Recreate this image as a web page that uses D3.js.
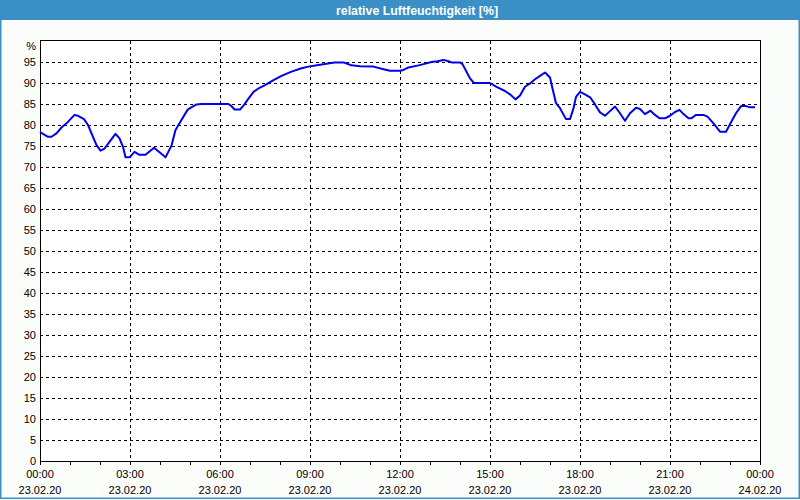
<!DOCTYPE html>
<html>
<head>
<meta charset="utf-8">
<script src="https://cdn.jsdelivr.net/npm/d3@7"></script>
<style>
html,body{margin:0;padding:0;background:#fbfdfb;}
svg{display:block;}
text{font-family:"Liberation Sans",Arial,sans-serif;}
</style>
</head>
<body>
<svg id="chart" width="800" height="500"></svg>
<script>
const title = "relative Luftfeuchtigkeit [%]";
const times = ["00:00","00:16","00:23","00:33","00:43","00:53","01:09","01:16","01:28","01:36","01:43","01:53","02:01","02:09","02:19","02:31","02:39","02:46","02:51","02:59","03:09","03:19","03:31","03:48","03:59","04:11","04:23","04:31","04:39","04:55","05:00","05:13","05:23","06:17","06:23","06:29","06:40","06:49","06:57","07:07","07:17","07:30","07:47","08:03","08:23","08:43","08:57","09:17","09:49","10:07","10:12","10:23","10:40","11:07","11:23","11:40","12:00","12:07","12:17","12:37","12:47","13:03","13:15","13:27","13:37","13:43","14:00","14:05","14:13","14:20","14:28","15:00","15:13","15:30","15:40","15:51","16:00","16:10","16:20","16:30","16:40","16:50","17:00","17:05","17:12","17:20","17:32","17:40","17:47","17:52","18:00","18:10","18:21","18:30","18:40","18:50","19:00","19:10","19:20","19:30","19:40","19:52","20:00","20:10","20:21","20:30","20:39","20:50","21:00","21:10","21:19","21:27","21:37","21:43","21:52","22:07","22:15","22:27","22:40","22:52","23:01","23:12","23:22","23:32","23:40","23:50"];
const humidity = [78.3,77.2,77.2,78,79.4,80.4,82.4,82.2,81.4,80,78,75.2,73.9,74.4,76,77.9,76.8,74.8,72.3,72.3,73.6,72.9,72.9,74.6,73.5,72.3,75.1,78.8,80.4,83.6,84,84.9,85,85,84.5,83.7,83.7,84.9,86.3,87.9,88.7,89.5,90.7,91.7,92.7,93.5,93.9,94.3,94.9,94.9,94.7,94.2,94,93.9,93.4,92.9,92.9,93.1,93.7,94.2,94.5,95,95.2,95.5,95.2,94.9,94.9,94.5,92.7,91.1,90,90,89.1,88.1,87.3,86.1,87,89.1,89.9,90.9,91.7,92.5,91.3,88.7,85.2,84,81.4,81.4,84,86.7,87.9,87.3,86.5,84.9,83,82.2,83.3,84.4,82.8,81,82.8,84.1,83.8,82.6,83.4,82.4,81.6,81.6,82.2,83.1,83.6,82.6,81.6,81.6,82.4,82.4,82,80.4,78.4,78.4,80.4,82.8,84.5,84.5,84.2,84.2];
const yTicks = [0,5,10,15,20,25,30,35,40,45,50,55,60,65,70,75,80,85,90,95];
const xTickTimes = ["2020-02-23 00:00","2020-02-23 03:00","2020-02-23 06:00","2020-02-23 09:00","2020-02-23 12:00","2020-02-23 15:00","2020-02-23 18:00","2020-02-23 21:00","2020-02-24 00:00"];
const xTickTop = ["00:00","03:00","06:00","09:00","12:00","15:00","18:00","21:00","00:00"];
const xTickBottom = ["23.02.20","23.02.20","23.02.20","23.02.20","23.02.20","23.02.20","23.02.20","23.02.20","24.02.20"];

const parseT = d3.timeParse("%Y-%m-%d %H:%M");
const data = times.map((t,i)=>({t:parseT("2020-02-23 "+t), v:humidity[i]}));
const svg = d3.select("#chart");
const L=40, R=760, T=41, B=461;
const x = d3.scaleTime().domain([parseT("2020-02-23 00:00"), parseT("2020-02-24 00:00")]).range([L,R]);
const y = d3.scaleLinear().domain([0,100]).range([B,T]);

// title bar
svg.append("rect").attr("x",0).attr("y",0).attr("width",800).attr("height",20).attr("fill","#3a8fc7");
svg.append("text").attr("x",417).attr("y",14.5).attr("text-anchor","middle")
  .attr("fill","#ffffff").attr("font-weight","bold").attr("font-size","12px")
  .attr("textLength",162).attr("lengthAdjust","spacingAndGlyphs").text(title);
// window border
svg.append("path").attr("d","M0.75,20V498.25H799.25V20").attr("fill","none").attr("stroke","#3a8fc7").attr("stroke-width",1.5);

// plot background
svg.append("rect").attr("x",L).attr("y",T-1).attr("width",R-L).attr("height",B-T+1).attr("fill","#ffffff");

// grid
const g = svg.append("g").attr("stroke","#000").attr("stroke-width",1).attr("stroke-dasharray","3,3").attr("shape-rendering","crispEdges");
yTicks.filter(v=>v>0).forEach(v=>{
  g.append("line").attr("x1",L).attr("x2",R).attr("y1",Math.round(y(v))+0.5).attr("y2",Math.round(y(v))+0.5);
});
const xTicks = xTickTimes.map(parseT);
xTicks.slice(1,-1).forEach(t=>{
  g.append("line").attr("x1",Math.round(x(t))+0.5).attr("x2",Math.round(x(t))+0.5).attr("y1",T).attr("y2",B);
});

// frame
svg.append("rect").attr("x",L+0.5).attr("y",T-0.5).attr("width",R-L).attr("height",B-T+0.5)
  .attr("fill","none").attr("stroke","#000").attr("shape-rendering","crispEdges");

// hourly ticks
const hours = d3.timeHour.range(x.domain()[0], d3.timeHour.offset(x.domain()[1],1));
svg.append("g").selectAll("line").data(hours).join("line")
  .attr("x1",d=>Math.round(x(d))+0.5).attr("x2",d=>Math.round(x(d))+0.5)
  .attr("y1",B).attr("y2",B+4).attr("stroke","#000").attr("shape-rendering","crispEdges");

// y labels
svg.append("g").selectAll("text").data(yTicks).join("text")
  .attr("x",36).attr("y",d=>y(d)).attr("dy","0.35em").attr("text-anchor","end")
  .attr("font-size","11px").attr("fill","#000").text(d=>d);
svg.append("text").attr("x",36).attr("y",y(100)+5).attr("dy","0.35em").attr("text-anchor","end")
  .attr("font-size","11px").attr("fill","#000").text("%");

// x labels
const xl = svg.append("g");
xTicks.forEach((t,i)=>{
  xl.append("text").attr("x",x(t)).attr("y",478).attr("text-anchor","middle").attr("font-size","11px").text(xTickTop[i]);
  xl.append("text").attr("x",x(t)).attr("y",494).attr("text-anchor","middle").attr("font-size","11px").text(xTickBottom[i]);
});

// line
const line = d3.line().x(d=>x(d.t)).y(d=>y(d.v));
svg.append("path").datum(data).attr("d",line).attr("fill","none")
  .attr("stroke","#0000ee").attr("stroke-width",2).attr("stroke-linejoin","round");
</script>
</body>
</html>
